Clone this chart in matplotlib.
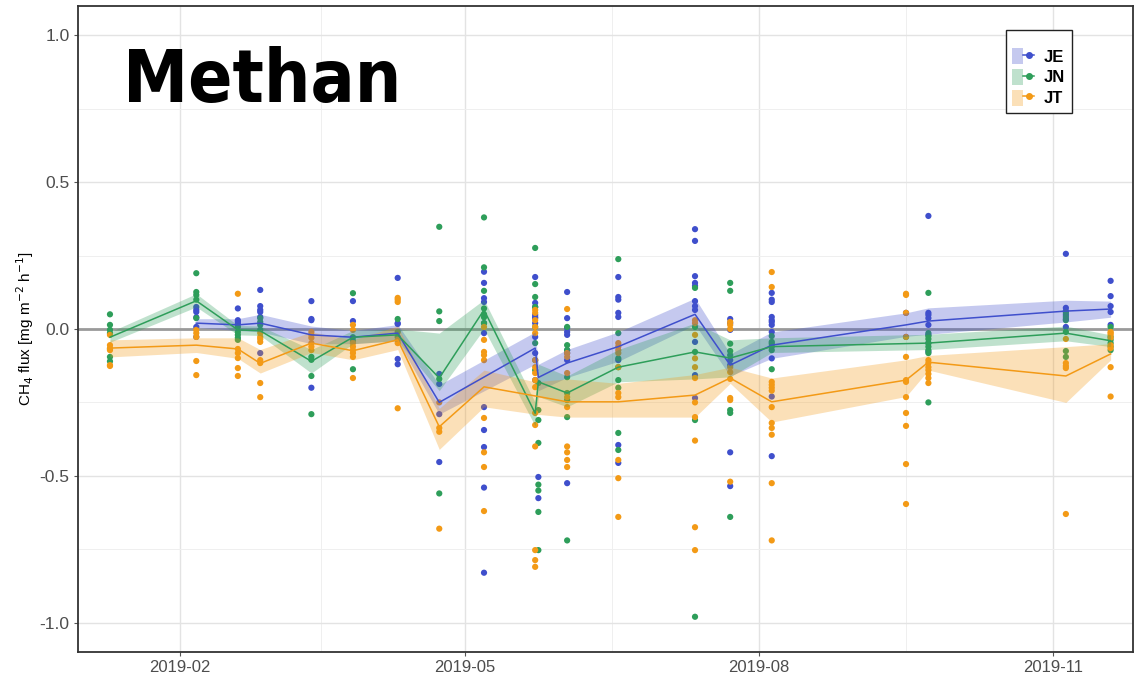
import matplotlib

matplotlib.use("Agg")
import matplotlib.pyplot as plt
import matplotlib.dates as mdates
import numpy as np
import pandas as pd
from matplotlib.legend_handler import HandlerTuple
from matplotlib.lines import Line2D
from matplotlib.patches import Patch


GROUPS = ["JE", "JN", "JT"]
COLORS = {"JE": "#3F4FCC", "JN": "#2E9E5A", "JT": "#F39A16"}

# mean line + ribbon per site
JE_DATES = ["2019-02-06", "2019-02-19", "2019-02-26", "2019-03-14", "2019-03-27",
            "2019-04-10", "2019-04-23", "2019-05-23", "2019-05-24", "2019-06-02",
            "2019-06-18", "2019-07-12", "2019-07-23", "2019-08-05", "2019-09-16",
            "2019-09-23", "2019-11-05", "2019-11-19"]
JE_MEAN = [0.02, 0.014, 0.02, -0.02, -0.028, -0.014, -0.25, -0.065, -0.165, -0.116,
           -0.06, 0.05, -0.123, -0.055, 0.014, 0.027, 0.061, 0.068]
JE_LO = [0.005, -0.005, -0.01, -0.05, -0.05, -0.04, -0.29, -0.12, -0.21, -0.165,
         -0.11, 0.015, -0.16, -0.1, -0.025, -0.018, 0.024, 0.04]
JE_HI = [0.035, 0.035, 0.05, 0.01, -0.005, 0.015, -0.19, -0.01, -0.12, -0.07,
         -0.01, 0.105, -0.085, -0.01, 0.055, 0.072, 0.098, 0.095]

JN_DATES = ["2019-01-10", "2019-02-06", "2019-02-19", "2019-02-26", "2019-03-14",
            "2019-03-27", "2019-04-10", "2019-04-23", "2019-05-07", "2019-05-23",
            "2019-05-24", "2019-06-02", "2019-06-18", "2019-07-12", "2019-07-23",
            "2019-08-05", "2019-09-23", "2019-11-05", "2019-11-19"]
JN_MEAN = [-0.028, 0.096, -0.003, -0.006, -0.11, -0.028, -0.02, -0.167, 0.065, -0.287,
           -0.18, -0.218, -0.13, -0.078, -0.099, -0.06, -0.048, -0.014, -0.04]
JN_LO = [-0.045, 0.075, -0.02, -0.022, -0.15, -0.05, -0.04, -0.21, 0.0, -0.33,
         -0.23, -0.265, -0.18, -0.17, -0.163, -0.08, -0.07, -0.04, -0.06]
JN_HI = [-0.01, 0.12, 0.012, 0.01, -0.07, -0.005, 0.0, -0.014, 0.1, -0.25,
         -0.12, -0.16, -0.07, 0.02, -0.037, -0.03, -0.018, 0.01, -0.02]

JT_DATES = ["2019-01-10", "2019-02-06", "2019-02-19", "2019-02-26", "2019-03-14",
            "2019-03-27", "2019-04-10", "2019-04-23", "2019-05-07", "2019-05-23",
            "2019-06-02", "2019-06-18", "2019-07-12", "2019-07-23", "2019-08-05",
            "2019-09-16", "2019-09-23", "2019-11-05", "2019-11-19"]
JT_MEAN = [-0.065, -0.055, -0.068, -0.117, -0.048, -0.074, -0.037, -0.333, -0.197, -0.228,
           -0.248, -0.248, -0.225, -0.167, -0.248, -0.174, -0.113, -0.16, -0.085]
JT_LO = [-0.095, -0.08, -0.1, -0.15, -0.08, -0.105, -0.07, -0.41, -0.265, -0.29,
         -0.3, -0.3, -0.3, -0.185, -0.317, -0.23, -0.14, -0.25, -0.105]
JT_HI = [-0.037, -0.03, -0.03, -0.07, -0.01, -0.037, 0.01, -0.27, -0.14, -0.18,
         -0.17, -0.185, -0.155, -0.13, -0.167, -0.105, -0.09, -0.06, -0.05]

# single chamber measurements
JE_POINTS = {
    "2019-02-06": [0.075, 0.065, 0.058, 0.04, 0.007, -0.027],
    "2019-02-19": [0.07, 0.03, 0.024, 0.017],
    "2019-02-26": [0.133, 0.078, 0.065, 0.058, 0.041, -0.082],
    "2019-03-14": [0.095, 0.034, 0.03, -0.2],
    "2019-03-27": [0.095, 0.027],
    "2019-04-10": [0.174, 0.02, 0.017, -0.102, -0.12],
    "2019-04-23": [-0.153, -0.187, -0.29, -0.453],
    "2019-05-07": [0.195, 0.157, 0.105, 0.092, 0.02, -0.014, -0.266, -0.344, -0.402, -0.54, -0.83],
    "2019-05-23": [0.177, 0.089, 0.075, 0.048, 0.041, 0.037, 0.02, -0.027, -0.082, -0.174],
    "2019-05-24": [-0.504, -0.576],
    "2019-06-02": [0.126, 0.037, 0.003, -0.01, -0.02, -0.072, -0.082, -0.106, -0.525],
    "2019-06-18": [0.177, 0.109, 0.1, 0.055, 0.041, -0.106, -0.395, -0.456],
    "2019-07-12": [0.34, 0.3, 0.18, 0.157, 0.147, 0.095, 0.078, 0.065, -0.044, -0.157, -0.235],
    "2019-07-23": [0.034, 0.02, -0.003, -0.106, -0.123, -0.42, -0.535],
    "2019-08-05": [0.123, 0.1, 0.092, 0.041, 0.03, 0.024, 0.014, -0.01, -0.1, -0.23, -0.433],
    "2019-09-16": [0.055, -0.027],
    "2019-09-23": [0.385, 0.055, 0.048, 0.037, 0.014, -0.02, -0.048, -0.077],
    "2019-11-05": [0.256, 0.072, 0.061, 0.048, 0.034, 0.007],
    "2019-11-19": [0.164, 0.112, 0.078, 0.058, 0.014],
}
JN_POINTS = {
    "2019-01-10": [0.05, 0.014, -0.003, -0.014, -0.068, -0.095, -0.11],
    "2019-02-06": [0.19, 0.126, 0.116, 0.1, 0.037],
    "2019-02-19": [0.007, -0.01, -0.02, -0.03, -0.037],
    "2019-02-26": [0.037, 0.024, 0.014, -0.003],
    "2019-03-14": [-0.095, -0.105, -0.16, -0.29],
    "2019-03-27": [0.122, -0.028, -0.04, -0.137],
    "2019-04-10": [0.034, -0.01, -0.027],
    "2019-04-23": [0.348, 0.06, 0.027, -0.17, -0.56],
    "2019-05-07": [0.38, 0.21, 0.13, 0.07, 0.05, 0.04, 0.02],
    "2019-05-23": [0.276, 0.153, 0.109, 0.075, 0.007, -0.048, -0.106, -0.14],
    "2019-05-24": [-0.184, -0.276, -0.31, -0.388, -0.53, -0.55, -0.623, -0.753],
    "2019-06-02": [0.007, -0.055, -0.072, -0.164, -0.218, -0.242, -0.3, -0.72],
    "2019-06-18": [0.238, -0.014, -0.1, -0.13, -0.174, -0.2, -0.354, -0.412],
    "2019-07-12": [0.14, 0.007, -0.078, -0.31, -0.98],
    "2019-07-23": [0.157, 0.13, -0.05, -0.075, -0.089, -0.276, -0.286, -0.64],
    "2019-08-05": [-0.024, -0.044, -0.05, -0.06, -0.072, -0.137],
    "2019-09-23": [0.123, -0.014, -0.024, -0.034, -0.048, -0.06, -0.072, -0.082, -0.25],
    "2019-11-05": [0.055, 0.041, 0.03, -0.01, -0.075, -0.095],
    "2019-11-19": [0.007, -0.027, -0.037, -0.048, -0.06, -0.072],
}
JT_POINTS = {
    "2019-01-10": [-0.02, -0.055, -0.065, -0.072, -0.123, -0.126],
    "2019-02-06": [-0.003, -0.014, -0.027, -0.109, -0.157],
    "2019-02-19": [0.12, -0.068, -0.082, -0.099, -0.133, -0.16],
    "2019-02-26": [-0.014, -0.027, -0.034, -0.044, -0.106, -0.116, -0.184, -0.232],
    "2019-03-14": [-0.01, -0.02, -0.03, -0.048, -0.06, -0.072],
    "2019-03-27": [0.014, -0.003, -0.048, -0.06, -0.072, -0.082, -0.095, -0.167],
    "2019-04-10": [0.106, 0.1, 0.092, -0.037, -0.048, -0.27],
    "2019-04-23": [-0.25, -0.337, -0.35, -0.68],
    "2019-05-07": [0.007, -0.037, -0.078, -0.089, -0.106, -0.303, -0.42, -0.47, -0.62],
    "2019-05-23": [0.065, 0.055, 0.03, 0.007, -0.014, -0.106, -0.13, -0.15, -0.174, -0.198,
                   -0.286, -0.327, -0.4, -0.753, -0.787, -0.81],
    "2019-06-02": [0.068, -0.082, -0.095, -0.15, -0.232, -0.266, -0.4, -0.42, -0.446, -0.47],
    "2019-06-18": [-0.048, -0.06, -0.072, -0.082, -0.13, -0.218, -0.232, -0.446, -0.508, -0.64],
    "2019-07-12": [0.03, 0.02, -0.02, -0.1, -0.13, -0.167, -0.25, -0.3, -0.38, -0.675, -0.753],
    "2019-07-23": [0.024, 0.014, 0.0, -0.13, -0.147, -0.17, -0.235, -0.242, -0.52],
    "2019-08-05": [0.194, 0.143, -0.18, -0.19, -0.2, -0.21, -0.266, -0.32, -0.337, -0.36,
                   -0.525, -0.72],
    "2019-09-16": [0.12, 0.116, 0.055, -0.027, -0.095, -0.174, -0.18, -0.232, -0.286, -0.33,
                   -0.46, -0.596],
    "2019-09-23": [-0.106, -0.116, -0.13, -0.14, -0.153, -0.167, -0.184],
    "2019-11-05": [-0.034, -0.116, -0.126, -0.133, -0.63],
    "2019-11-19": [-0.01, -0.014, -0.02, -0.03, -0.055, -0.065, -0.13, -0.23],
}

SERIES = {
    "JE": (JE_DATES, JE_MEAN, JE_LO, JE_HI, JE_POINTS),
    "JN": (JN_DATES, JN_MEAN, JN_LO, JN_HI, JN_POINTS),
    "JT": (JT_DATES, JT_MEAN, JT_LO, JT_HI, JT_POINTS),
}

X_TICKS = ["2019-02-01", "2019-05-01", "2019-08-01", "2019-11-01"]
X_MINOR = ["2019-03-17", "2019-06-16", "2019-09-16"]
Y_TICKS = [-1.0, -0.5, 0.0, 0.5, 1.0]
Y_MINOR = [-0.75, -0.25, 0.25, 0.75]


def main():
    plt.rcParams["font.family"] = ["Liberation Sans", "DejaVu Sans"]
    fig = plt.figure(figsize=(11.35, 6.81), dpi=100)
    ax = fig.add_axes([78 / 1135, 29 / 681, 1055 / 1135, 646 / 681])

    # points first, ribbons on top (tints the points like the original)
    for g in GROUPS:
        points = SERIES[g][4]
        xs, ys = [], []
        for d, vals in points.items():
            xs += [pd.Timestamp(d)] * len(vals)
            ys += vals
        ax.scatter(xs, ys, s=20, color=COLORS[g], edgecolors="none", zorder=3)

    for g in GROUPS:
        dates, mean, lo, hi, _ = SERIES[g]
        x = pd.to_datetime(dates)
        ax.fill_between(x, lo, hi, color=COLORS[g], alpha=0.3, linewidth=0, zorder=4)
        ax.plot(x, mean, color=COLORS[g], lw=1.1, zorder=5)

    ax.axhline(0, color="#9a9a9a", lw=2, zorder=2)

    ax.set_xlim(pd.Timestamp("2018-12-31"), pd.Timestamp("2019-11-26"))
    ax.set_ylim(-1.1, 1.1)
    ax.set_xticks(pd.to_datetime(X_TICKS))
    ax.set_xticks(pd.to_datetime(X_MINOR), minor=True)
    ax.xaxis.set_major_formatter(mdates.DateFormatter("%Y-%m"))
    ax.set_yticks(Y_TICKS)
    ax.set_yticks(Y_MINOR, minor=True)
    ax.set_yticklabels([f"{v:.1f}" for v in Y_TICKS])

    ax.grid(which="major", color="#e3e3e3", lw=1.0, zorder=0)
    ax.grid(which="minor", color="#efefef", lw=0.7, zorder=0)
    ax.set_axisbelow(True)
    ax.tick_params(which="major", length=3, width=0.8, color="#555555",
                   labelsize=12, labelcolor="#4d4d4d", pad=3)
    ax.tick_params(axis="y", labelsize=12.5)
    ax.tick_params(which="minor", length=0)
    for sp in ax.spines.values():
        sp.set_color("#333333")
        sp.set_linewidth(1.3)

    ax.set_ylabel(r"CH$_4$ flux [mg m$^{-2}$ h$^{-1}$]", fontsize=11, labelpad=3)

    handles = [
        (Patch(facecolor=COLORS[g], alpha=0.3, edgecolor="none"),
         Line2D([], [], color=COLORS[g], lw=1.1, marker="o", markersize=4))
        for g in GROUPS
    ]
    leg = ax.legend(handles, GROUPS, handler_map={tuple: HandlerTuple(ndivide=None, pad=0)},
                    loc="upper right", bbox_to_anchor=(1072 / 1135, 1 - 30 / 681),
                    bbox_transform=fig.transFigure, title=" ", frameon=True,
                    fancybox=False, edgecolor="#222222", framealpha=1,
                    prop={"weight": "bold", "size": 12}, handlelength=1.3,
                    handleheight=1.1, handletextpad=0.6, labelspacing=0.25,
                    borderpad=0.4, borderaxespad=0)
    leg.get_frame().set_linewidth(1.0)
    leg.get_title().set_fontsize(6)

    fig.text(123 / 1135, 1 - 102 / 681, "Methan", fontsize=52.5, fontweight="bold",
             family="DejaVu Sans", fontstretch="condensed", ha="left", va="baseline")

    fig.savefig("out.png", dpi=100)
    plt.close(fig)


if __name__ == "__main__":
    main()
